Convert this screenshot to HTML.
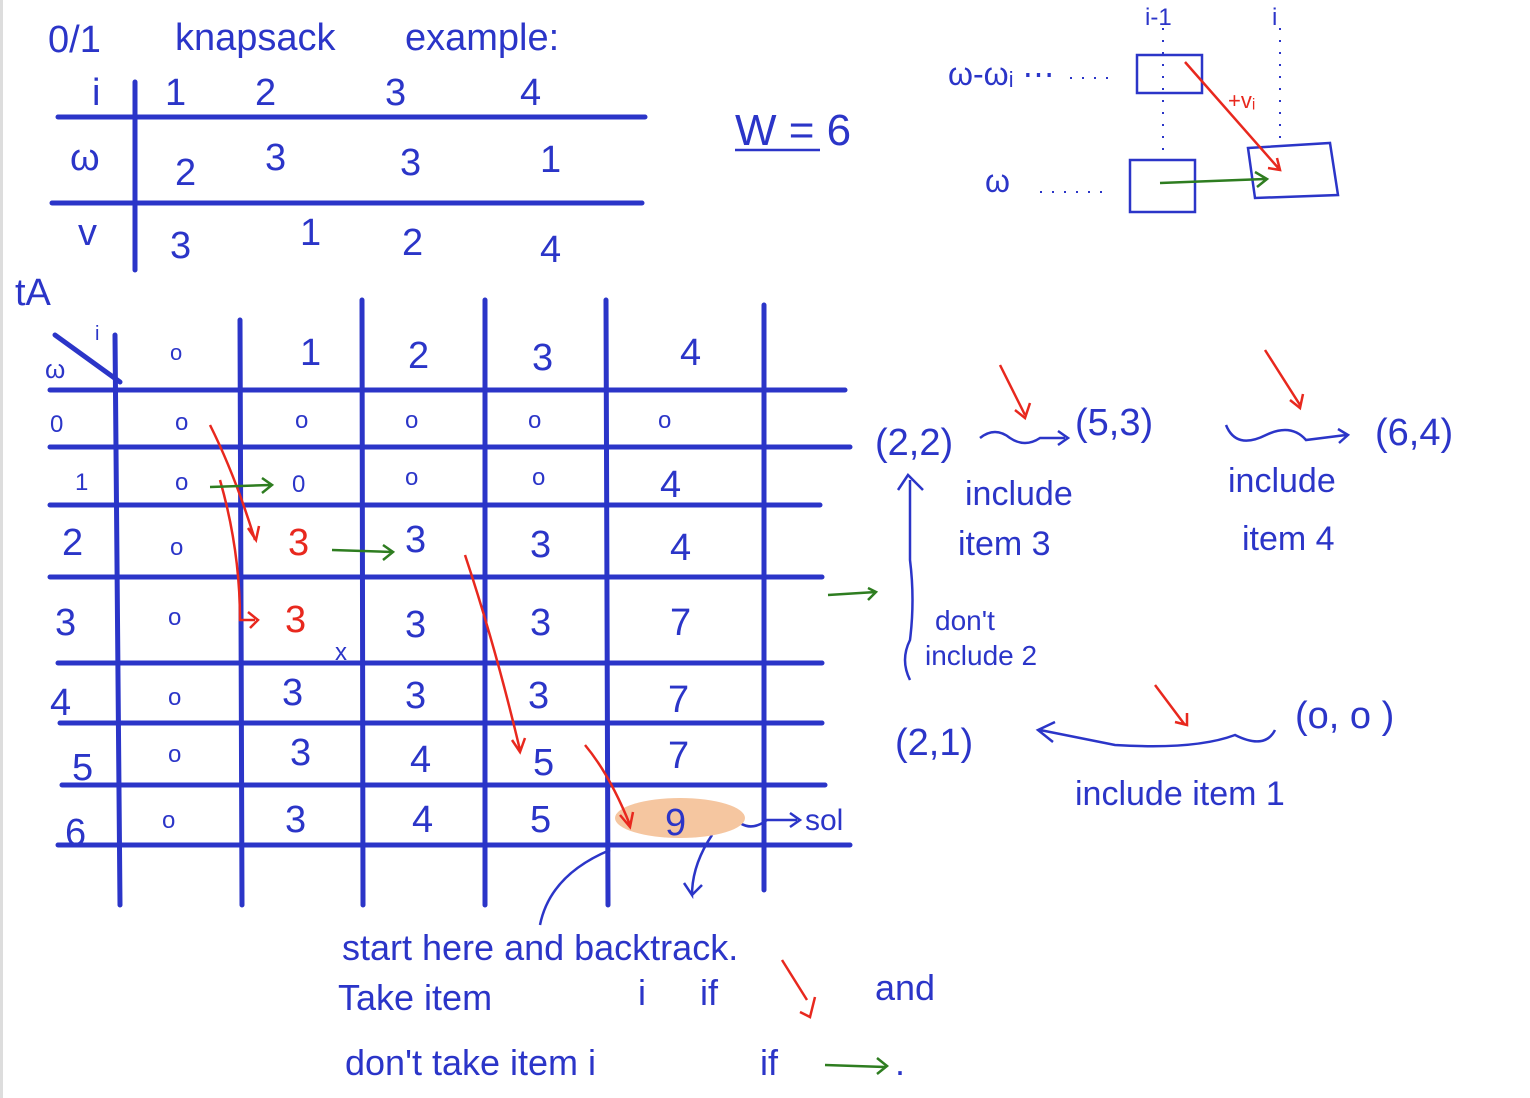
<!DOCTYPE html>
<html><head><meta charset="utf-8"><style>
html,body{margin:0;padding:0;background:#fff;}
svg{display:block;}
text{font-family:"Liberation Sans",sans-serif;fill:#2b35c8;}
.r{fill:#e8281e;}
.g{fill:#2e7d20;}
</style></head><body>
<svg width="1530" height="1098" viewBox="0 0 1530 1098">
<rect x="0" y="0" width="3" height="1098" fill="#ddd"/>
<g stroke="#2b35c8" stroke-width="5" stroke-linecap="round" fill="none">
<line x1="58" y1="117" x2="645" y2="117"/>
<line x1="52" y1="203" x2="642" y2="203"/>
<line x1="135" y1="82" x2="135" y2="270"/>
<line x1="50" y1="390" x2="845" y2="390"/>
<line x1="50" y1="447" x2="850" y2="447"/>
<line x1="50" y1="505" x2="820" y2="505"/>
<line x1="50" y1="577" x2="822" y2="577"/>
<line x1="58" y1="663" x2="822" y2="663"/>
<line x1="60" y1="723" x2="822" y2="723"/>
<line x1="62" y1="785" x2="825" y2="785"/>
<line x1="58" y1="845" x2="850" y2="845"/>
<line x1="115" y1="335" x2="120" y2="905"/>
<line x1="240" y1="320" x2="242" y2="905"/>
<line x1="362" y1="300" x2="363" y2="905"/>
<line x1="485" y1="300" x2="485" y2="905"/>
<line x1="606" y1="300" x2="608" y2="905"/>
<line x1="764" y1="305" x2="764" y2="890"/>
<line x1="55" y1="335" x2="120" y2="382"/>
</g>
<g stroke="#2b35c8" stroke-width="2.5" fill="none">
<line x1="735" y1="150" x2="820" y2="150"/>
<rect x="1137" y="55" width="65" height="38"/>
<rect x="1130" y="160" width="65" height="52"/>
<path d="M1248 148 L1330 143 L1338 195 L1255 198 Z"/>
<path d="M980 438 q15 -12 30 0 q15 10 30 0 l25 0 M1058 431 l10 7 l-10 7"/>
<path d="M1226 425 q10 25 40 10 q25 -12 40 5 l40 -5 M1338 429 l10 6 l-9 8"/>
<path d="M1275 730 q-10 20 -40 5 q-40 15 -120 10 l-75 -15 M1055 722 l-17 8 l15 12"/>
<path d="M910 680 q-10 -20 0 -40 q5 -40 0 -80 l0 -80 M898 490 l10 -15 l15 15"/>
<path d="M540 925 q10 -50 70 -75"/>
<path d="M712 835 q-20 30 -20 60 l-8 -12 M692 895 l10 -10"/>
<path d="M732 815 q15 20 35 5 l30 0 M790 813 l10 7 l-10 7"/>
</g>
<g stroke="#2b35c8" stroke-width="2" stroke-dasharray="2 10">
<line x1="1163" y1="28" x2="1163" y2="158"/>
<line x1="1280" y1="28" x2="1280" y2="145"/>
<line x1="1040" y1="192" x2="1110" y2="192"/>
<line x1="1070" y1="78" x2="1110" y2="78"/>
</g>
<ellipse cx="680" cy="818" rx="65" ry="20" fill="#f5c6a0"/>
<g stroke="#e8281e" stroke-width="2.5" fill="none">
<path d="M1185 62 L1280 170 M1268 168 l12 2 l-3 -12"/>
<path d="M210 425 q25 50 45 115 M248 528 l8 12 l3 -14"/>
<path d="M220 480 q20 70 20 140 l15 0 M248 612 l10 8 l-8 8"/>
<path d="M465 555 q30 90 55 195 M512 740 l8 12 l5 -14"/>
<path d="M585 745 q25 30 45 80 M620 815 l10 12 l3 -15"/>
<path d="M1000 365 l25 50 M1015 410 l10 8 l5 -15"/>
<path d="M1265 350 l35 55 M1290 400 l10 8 l3 -14"/>
<path d="M1155 685 l30 40 M1175 722 l12 3 l0 -12"/>
<path d="M782 960 l25 40 M800 1012 l10 5 l5 -20"/>
</g>
<g stroke="#2e7d20" stroke-width="2.5" fill="none">
<path d="M1160 183 L1265 179 M1255 172 l12 7 l-10 8"/>
<path d="M210 487 l60 -2 M262 478 l10 7 l-10 8"/>
<path d="M332 550 l60 2 M383 545 l10 7 l-10 8"/>
<path d="M828 595 l48 -3 M868 588 l8 4 l-8 8"/>
<path d="M825 1065 l60 2 M877 1058 l10 8 l-10 8"/>
</g>
<g font-size="38">
<text x="48" y="52">0/1</text><text x="175" y="50">knapsack</text><text x="405" y="50">example:</text>
<text x="92" y="105">i</text><text x="165" y="105">1</text><text x="255" y="105">2</text><text x="385" y="105">3</text><text x="520" y="105">4</text>
<text x="70" y="170">ω</text><text x="175" y="185">2</text><text x="265" y="170">3</text><text x="400" y="175">3</text><text x="540" y="172">1</text>
<text x="78" y="245">v</text><text x="170" y="258">3</text><text x="300" y="245">1</text><text x="402" y="255">2</text><text x="540" y="262">4</text>
<text x="15" y="305">tA</text>
<text x="735" y="145" font-size="44">W = 6</text>
<text x="948" y="85" font-size="32">ω-ωᵢ ⋯</text><text x="985" y="192" font-size="32">ω</text>
<text x="1145" y="25" font-size="24">i-1</text><text x="1272" y="25" font-size="24">i</text>
<text x="1228" y="108" font-size="22" class="r">+vᵢ</text>
<text x="170" y="360" font-size="22">o</text><text x="300" y="365">1</text><text x="408" y="368">2</text><text x="532" y="370">3</text><text x="680" y="365">4</text>
<text x="95" y="340" font-size="20">i</text><text x="45" y="378" font-size="26">ω</text>
<g font-size="24"><text x="50" y="432">0</text><text x="175" y="430">o</text><text x="295" y="428">o</text><text x="405" y="428">o</text><text x="528" y="428">o</text><text x="658" y="428">o</text>
<text x="75" y="490">1</text><text x="175" y="490">o</text><text x="292" y="492">0</text><text x="405" y="485">o</text><text x="532" y="485">o</text>
<text x="170" y="555">o</text><text x="168" y="625">o</text><text x="168" y="705">o</text><text x="168" y="762">o</text><text x="162" y="828">o</text></g>
<text x="660" y="497">4</text>
<text x="62" y="555">2</text><text x="288" y="555" class="r">3</text><text x="405" y="552">3</text><text x="530" y="557">3</text><text x="670" y="560">4</text>
<text x="55" y="635">3</text><text x="285" y="632" class="r">3</text><text x="405" y="637">3</text><text x="530" y="635">3</text><text x="670" y="635">7</text>
<text x="335" y="660" font-size="24">x</text>
<text x="50" y="715">4</text><text x="282" y="705">3</text><text x="405" y="708">3</text><text x="528" y="708">3</text><text x="668" y="712">7</text>
<text x="72" y="780">5</text><text x="290" y="765">3</text><text x="410" y="772">4</text><text x="533" y="775">5</text><text x="668" y="768">7</text>
<text x="65" y="845">6</text><text x="285" y="832">3</text><text x="412" y="832">4</text><text x="530" y="832">5</text><text x="665" y="835">9</text>
<text x="805" y="830" font-size="30">sol</text>
<text x="875" y="455">(2,2)</text><text x="1075" y="435">(5,3)</text><text x="1375" y="445">(6,4)</text>
<text x="965" y="505" font-size="34">include</text><text x="958" y="555" font-size="34">item 3</text>
<text x="1228" y="492" font-size="34">include</text><text x="1242" y="550" font-size="34">item 4</text>
<text x="935" y="630" font-size="28">don't</text><text x="925" y="665" font-size="28">include 2</text>
<text x="895" y="755">(2,1)</text><text x="1295" y="728">(o, o )</text>
<text x="1075" y="805" font-size="34">include item 1</text>
<text x="342" y="960" font-size="36">start here and backtrack.</text>
<text x="338" y="1010" font-size="36">Take item</text><text x="638" y="1005" font-size="36">i</text><text x="700" y="1005" font-size="36">if</text><text x="875" y="1000" font-size="36">and</text>
<text x="345" y="1075" font-size="36">don't take item i</text><text x="760" y="1075" font-size="36">if</text><text x="895" y="1075" font-size="36">.</text>
</g>
</svg>
</body></html>
